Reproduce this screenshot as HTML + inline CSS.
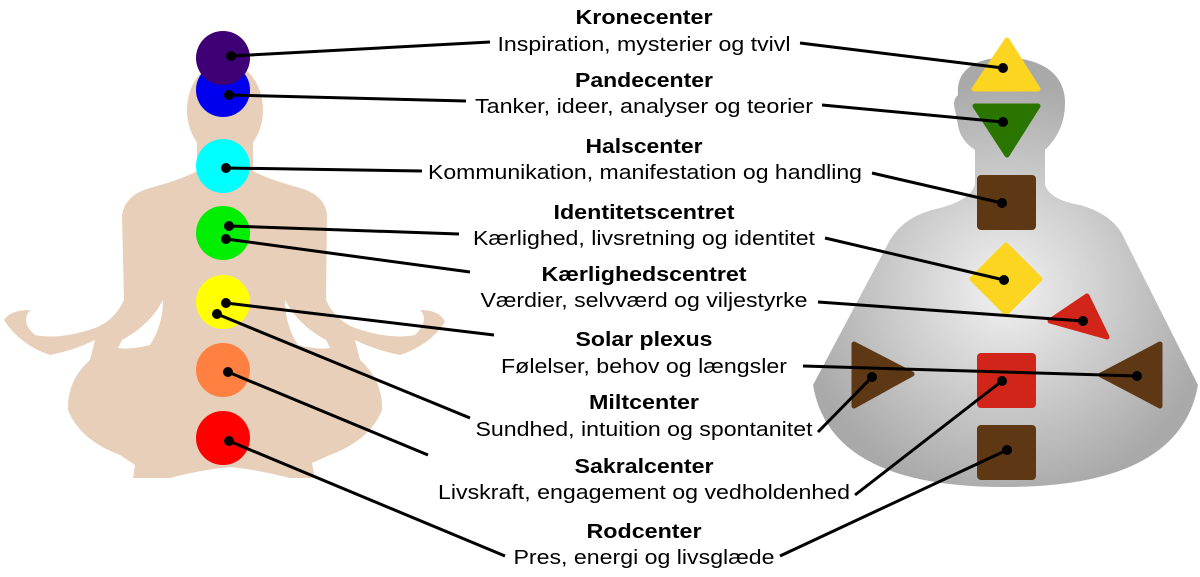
<!DOCTYPE html>
<html><head><meta charset="utf-8"><style>
html,body{margin:0;padding:0;background:#fff;width:1200px;height:577px;overflow:hidden}
svg{display:block}
text{font-family:"Liberation Sans",Arial,sans-serif;font-size:20px;fill:#000}
.b{font-weight:bold}
</style></head><body>
<svg width="1200" height="577" viewBox="0 0 1200 577" xmlns="http://www.w3.org/2000/svg">
<defs>
<radialGradient id="g" cx="1005" cy="290" r="210" gradientUnits="userSpaceOnUse">
<stop offset="0" stop-color="#f2f2f2"/><stop offset="1" stop-color="#a9a9a9"/>
</radialGradient>
</defs>
<g fill="#e8cfb9">
<ellipse cx="225" cy="110" rx="38" ry="48"/>
<rect x="197" y="130" width="56" height="50"/>
<path d="M200 170 Q180 180 150 188 Q125 195 122 215 L124 300 Q115 320 95 328 Q60 340 35 335 Q20 322 30 310 Q10 310 4 320 Q20 345 50 355 Q75 350 95 340 L90 360 Q67 380 68 410 Q80 440 120 455 L135 465 L133 478 L170 478 Q200 470 230 467 Q260 470 290 478 L315 478 L312 463 L330 455 Q370 440 382 410 Q383 380 360 360 L355 340 Q375 350 400 355 Q430 345 445 322 Q440 310 420 310 Q430 320 415 335 Q390 340 355 328 Q335 320 326 300 L327 215 Q325 195 300 188 Q270 180 250 170 Z"/>
</g>
<g fill="#fff">
<path d="M163 300 Q163 325 150 345 Q130 350 118 348 L122 340 Q150 325 163 300Z"/>
<path d="M285 300 Q285 325 298 345 Q318 350 330 348 L326 340 Q298 325 285 300Z"/>
</g>
<circle cx="223" cy="90" r="27" fill="#0000ee"/>
<circle cx="223" cy="58" r="27" fill="#400075"/>
<circle cx="223" cy="166" r="27" fill="#00ffff"/>
<circle cx="223" cy="233" r="27" fill="#00ee00"/>
<circle cx="223" cy="302" r="27" fill="#ffff00"/>
<circle cx="223" cy="370" r="27" fill="#ff8040"/>
<circle cx="223" cy="438" r="27" fill="#ff0000"/>
<path fill="url(#g)" d="M975 150 Q960 140 958 125 L955 110 Q952 100 958 95 Q955 60 1005 57 Q1062 60 1065 100 Q1066 130 1045 150 L1045 185 Q1050 200 1080 205 Q1115 215 1125 240 L1198 385 Q1180 487 1005 487 Q830 487 813 385 L890 240 Q905 215 940 208 Q970 200 975 185 Z"/>
<g stroke-linejoin="round">
<polygon points="1007,40 1038,89 974,89" fill="#fcd520" stroke="#fcd520" stroke-width="5"/>
<polygon points="975,106 1038,106 1007,155" fill="#2a7400" stroke="#2a7400" stroke-width="5"/>
<rect x="977" y="175" width="59" height="55" rx="4" fill="#5e3715"/>
<polygon points="1006,245 1040,279 1006,313 972,279" fill="#fcd520" stroke="#fcd520" stroke-width="5"/>
<polygon points="1050,321 1087,296 1107,337" fill="#d22519" stroke="#d22519" stroke-width="5"/>
<polygon points="854,344 854,406 912,374" fill="#5e3715" stroke="#5e3715" stroke-width="5"/>
<polygon points="1160,344 1160,406 1101,375" fill="#5e3715" stroke="#5e3715" stroke-width="5"/>
<rect x="977" y="353" width="59" height="55" rx="4" fill="#d22519"/>
<rect x="977" y="425" width="59" height="55" rx="4" fill="#5e3715"/>
</g>
<g stroke="#000" stroke-width="3" fill="none">
<line x1="231" y1="56" x2="490" y2="42"/>
<line x1="229" y1="95" x2="466" y2="101"/>
<line x1="226" y1="168" x2="422" y2="171"/>
<line x1="229" y1="226" x2="459" y2="234"/>
<line x1="226" y1="239" x2="470" y2="272"/>
<line x1="226" y1="303" x2="494" y2="335"/>
<line x1="217" y1="314" x2="470" y2="418"/>
<line x1="228" y1="372" x2="428" y2="455"/>
<line x1="229" y1="441" x2="505" y2="556"/>
<line x1="800" y1="43" x2="1003" y2="68"/>
<line x1="822" y1="105" x2="1003" y2="122"/>
<line x1="872" y1="173" x2="1002" y2="203"/>
<line x1="825" y1="238" x2="1004" y2="280"/>
<line x1="818" y1="302" x2="1083" y2="321"/>
<line x1="803" y1="366" x2="1137" y2="376"/>
<line x1="818" y1="432" x2="872" y2="377"/>
<line x1="855" y1="495" x2="1002" y2="381"/>
<line x1="780" y1="556" x2="1007" y2="450"/>
</g>
<g fill="#000">
<circle cx="231" cy="56" r="5"/><circle cx="229" cy="95" r="5"/><circle cx="226" cy="168" r="5"/>
<circle cx="229" cy="226" r="5"/><circle cx="226" cy="239" r="5"/><circle cx="226" cy="303" r="5"/>
<circle cx="217" cy="314" r="5"/><circle cx="228" cy="372" r="5"/><circle cx="229" cy="441" r="5"/>
<circle cx="1003" cy="68" r="5"/><circle cx="1003" cy="122" r="5"/><circle cx="1002" cy="203" r="5"/>
<circle cx="1004" cy="280" r="5"/><circle cx="1083" cy="321" r="5"/><circle cx="1137" cy="376" r="5"/>
<circle cx="872" cy="377" r="5"/><circle cx="1002" cy="381" r="5"/><circle cx="1007" cy="450" r="5"/>
</g>
<g text-anchor="middle" lengthAdjust="spacingAndGlyphs">
<text x="644" y="24" class="b" textLength="137" lengthAdjust="spacingAndGlyphs">Kronecenter</text>
<text x="644" y="51" textLength="293" lengthAdjust="spacingAndGlyphs">Inspiration, mysterier og tvivl</text>
<text x="644" y="87" class="b" textLength="138" lengthAdjust="spacingAndGlyphs">Pandecenter</text>
<text x="644" y="113" textLength="338" lengthAdjust="spacingAndGlyphs">Tanker, ideer, analyser og teorier</text>
<text x="644" y="153" class="b" textLength="117" lengthAdjust="spacingAndGlyphs">Halscenter</text>
<text x="645" y="179" textLength="434" lengthAdjust="spacingAndGlyphs">Kommunikation, manifestation og handling</text>
<text x="644" y="219" class="b" textLength="181" lengthAdjust="spacingAndGlyphs">Identitetscentret</text>
<text x="644" y="245" textLength="342" lengthAdjust="spacingAndGlyphs">Kærlighed, livsretning og identitet</text>
<text x="644" y="281" class="b" textLength="205" lengthAdjust="spacingAndGlyphs">Kærlighedscentret</text>
<text x="644" y="307" textLength="327" lengthAdjust="spacingAndGlyphs">Værdier, selvværd og viljestyrke</text>
<text x="644" y="346" class="b" textLength="137" lengthAdjust="spacingAndGlyphs">Solar plexus</text>
<text x="644" y="373" textLength="286" lengthAdjust="spacingAndGlyphs">Følelser, behov og længsler</text>
<text x="644" y="409" class="b" textLength="110" lengthAdjust="spacingAndGlyphs">Miltcenter</text>
<text x="644" y="436" textLength="337" lengthAdjust="spacingAndGlyphs">Sundhed, intuition og spontanitet</text>
<text x="644" y="473" class="b" textLength="139" lengthAdjust="spacingAndGlyphs">Sakralcenter</text>
<text x="644" y="499" textLength="412" lengthAdjust="spacingAndGlyphs">Livskraft, engagement og vedholdenhed</text>
<text x="644" y="538" class="b" textLength="115" lengthAdjust="spacingAndGlyphs">Rodcenter</text>
<text x="644" y="564" textLength="261" lengthAdjust="spacingAndGlyphs">Pres, energi og livsglæde</text>
</g>
</svg>
</body></html>
